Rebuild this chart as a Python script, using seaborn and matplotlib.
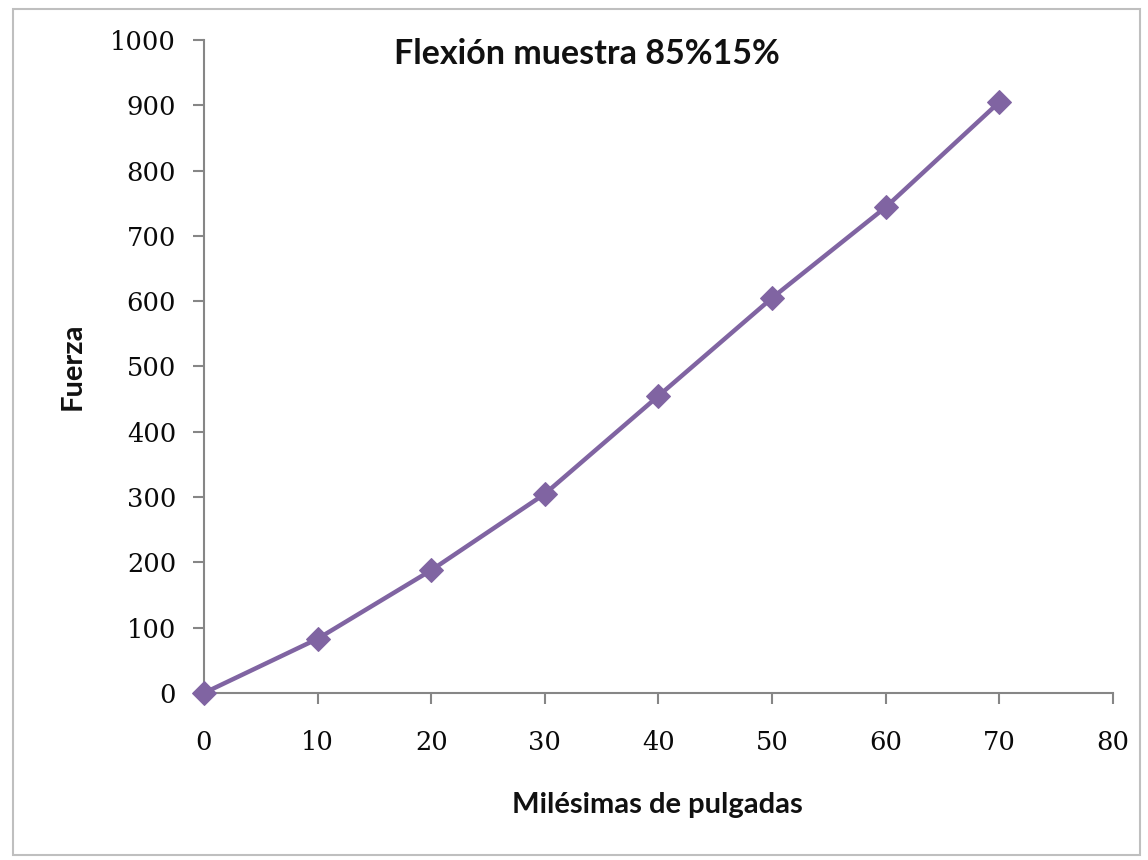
import matplotlib
matplotlib.use("Agg")
import matplotlib.pyplot as plt
import seaborn as sns
import pandas as pd
from matplotlib.patches import Rectangle

# Deflection test readings
milesimas = [0, 10, 20, 30, 40, 50, 60, 70]
fuerza = [0, 83, 188, 305, 455, 605, 744, 905]

x_ticks = [0, 10, 20, 30, 40, 50, 60, 70, 80]
y_ticks = [0, 100, 200, 300, 400, 500, 600, 700, 800, 900, 1000]

df = pd.DataFrame({"Milésimas de pulgadas": milesimas, "Fuerza": fuerza})

sns.set_style("white")
purple = "#8064A2"
axis_grey = "#868686"

fig = plt.figure(figsize=(11.48, 8.6), dpi=100)
ax = fig.add_axes([0.1777, 0.1942, 0.9695 - 0.1777, 0.9535 - 0.1942])

sns.lineplot(data=df, x="Milésimas de pulgadas", y="Fuerza", ax=ax,
             color=purple, linewidth=3.2, marker="D", markersize=12,
             markeredgecolor=purple, markerfacecolor=purple, clip_on=False,
             zorder=5)

ax.set_xlim(0, 80)
ax.set_ylim(0, 1000)
ax.set_xticks(x_ticks)
ax.set_yticks(y_ticks)
for sp in ["top", "right"]:
    ax.spines[sp].set_visible(False)
for sp in ["left", "bottom"]:
    ax.spines[sp].set_color(axis_grey)
    ax.spines[sp].set_linewidth(1.5)
ax.tick_params(axis="both", direction="out", length=8, width=1.5,
               color=axis_grey, pad=12, left=True, bottom=True)
for lab in ax.get_xticklabels() + ax.get_yticklabels():
    lab.set_fontfamily("DejaVu Serif")
    lab.set_fontsize(18.5)
    lab.set_color("#0a0a0a")
ax.tick_params(axis="x", pad=19)

ax.set_xlabel("")
ax.set_ylabel("")
ax.patch.set_alpha(0)

fig.text(0.511, 0.937, "Flexión muestra 85%15%", ha="center", va="center",
         fontsize=24.5, fontweight="bold", fontfamily="Lato", color="#111111")
fig.text(0.573, 0.064, "Milésimas de pulgadas", ha="center", va="center",
         fontsize=21, fontweight="bold", fontfamily="Lato", color="#111111")
fig.text(0.063, 0.574, "Fuerza", ha="center", va="center", rotation=90,
         fontsize=21, fontweight="bold", fontfamily="Lato", color="#111111")

# Chart frame
fig.patches.append(Rectangle((0.011, 0.006), 0.982, 0.984,
                             transform=fig.transFigure, fill=False,
                             edgecolor="#BFBFBF", linewidth=1.5))

fig.savefig("out.png", dpi=100)
